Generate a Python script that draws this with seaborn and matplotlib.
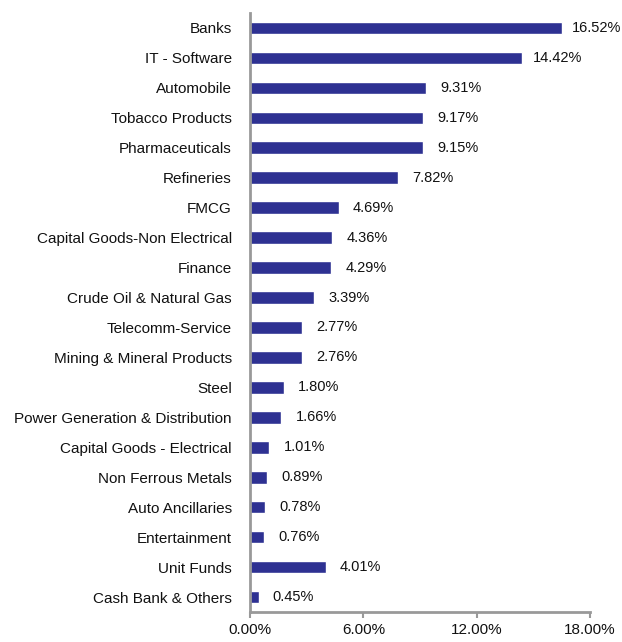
import pandas as pd
import seaborn as sns
import matplotlib.pyplot as plt
from matplotlib.ticker import FuncFormatter

sectors = [
    'Banks', 'IT - Software', 'Automobile', 'Tobacco Products',
    'Pharmaceuticals', 'Refineries', 'FMCG', 'Capital Goods-Non Electrical',
    'Finance', 'Crude Oil & Natural Gas', 'Telecomm-Service',
    'Mining & Mineral Products', 'Steel', 'Power Generation & Distribution',
    'Capital Goods - Electrical', 'Non Ferrous Metals', 'Auto Ancillaries',
    'Entertainment', 'Unit Funds', 'Cash Bank & Others'
]
weights = [16.52, 14.42, 9.31, 9.17, 9.15, 7.82, 4.69, 4.36, 4.29, 3.39,
           2.77, 2.76, 1.80, 1.66, 1.01, 0.89, 0.78, 0.76, 4.01, 0.45]
x_ticks = [0, 6, 12, 18]

df = pd.DataFrame({'sector': sectors, 'weight': weights})

sns.set_style('white')
plt.rcParams['font.family'] = ['Liberation Sans', 'DejaVu Sans']

fig = plt.figure(figsize=(6.22, 6.42), dpi=100)
ax = fig.add_axes([0.402, 0.0467, 0.5466, 0.9331])

sns.barplot(data=df, x='weight', y='sector', color='#2E3192',
            width=0.42, saturation=1, ax=ax)

# value labels centred a fixed distance past the bar end
for i, v in enumerate(weights):
    ax.text(v + 1.85, i, f'{v:.2f}%', va='center', ha='center',
            fontsize=10.5, color='#111111')

ax.set_xlim(0, 18)
ax.set_xticks(x_ticks)
ax.xaxis.set_major_formatter(FuncFormatter(lambda v, p: f'{v:.2f}%'))
ax.set_xlabel('')
ax.set_ylabel('')
ax.tick_params(axis='y', length=0, labelsize=11, pad=13, labelcolor='#111111')
ax.tick_params(axis='x', length=4, width=1.5, color='#999999', direction='out',
               labelsize=11, pad=4, labelcolor='#111111')
ax.xaxis.set_ticks_position('bottom')

for s in ['top', 'right']:
    ax.spines[s].set_visible(False)
for s in ['left', 'bottom']:
    ax.spines[s].set_color('#999999')
    ax.spines[s].set_linewidth(2)

fig.savefig('out.png', dpi=100)
